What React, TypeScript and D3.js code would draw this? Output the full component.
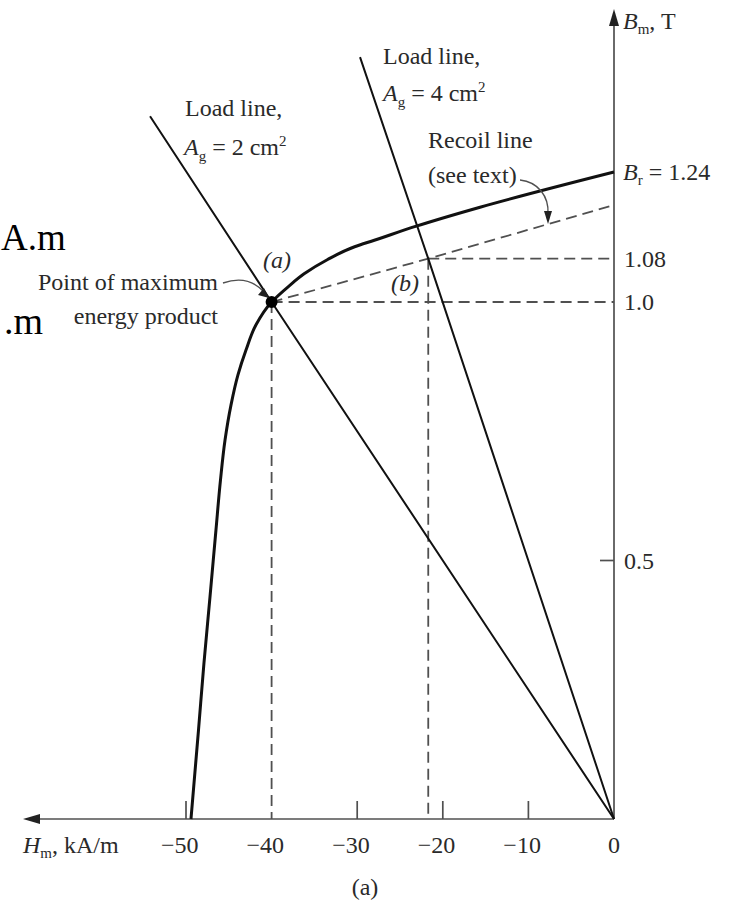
import React from "react";
import * as d3 from "d3";

// ---- data ----
const demagH = [-49.42, -48.54, -47.9, -47.2, -46.5, -45.97, -45.44, -44.74, -43.93, -42.99, -41.82, -40, -37.97, -36.2, -33.5, -30.3, -28.0, -23.1, -15.65, 0];
const demagB = [0, 0.172, 0.302, 0.429, 0.559, 0.656, 0.733, 0.801, 0.859, 0.907, 0.956, 1.0, 1.0295, 1.052, 1.078, 1.102, 1.114, 1.14, 1.175, 1.24];
const load2H = [0, -40, -54.2];
const load2B = [0, 1.0, 1.343];
const load4H = [0, -21.7, -29.67];
const load4B = [0, 1.08, 1.452];
const recoilH = [-40, -21.7, 0];
const recoilB = [1.0, 1.08, 1.179];
const pointA = { h: -40, b: 1.0 };
const pointB = { h: -21.7, b: 1.08 };
const xTicks = [-50, -40, -30, -20, -10, 0];
const xTickMarks = [-50, -30, -20, -10];
const yTickMarks = [0.5];
const yLabels = [
  { v: 1.08, t: "1.08" },
  { v: 1.0, t: "1.0" },
  { v: 0.5, t: "0.5" },
];

const W = 731;
const H = 908;
const FONT = "'Liberation Serif', 'Times New Roman', serif";

export default function App() {
  const x = d3.scaleLinear().domain([-50, 0]).range([186, 614]);
  const y = d3.scaleLinear().domain([0, 1.0, 1.24]).range([819, 302, 172]);
  const line = (hs: number[], bs: number[]) =>
    d3.line<number>().x((_, i) => x(hs[i])).y((_, i) => y(bs[i]))(hs.map((_, i) => i)) || "";
  const curve =
    d3
      .line<number>()
      .x((_, i) => x(demagH[i]))
      .y((_, i) => y(demagB[i]))
      .curve(d3.curveMonotoneY)(demagH.map((_, i) => i)) || "";

  const x0 = x(0);
  const y0 = y(0);
  const ink = "#111";
  const grey = "#505050";
  const txt = "#2a2a2a";
  const fs = 24;
  const sub = 15;

  return (
    <svg
      width={W}
      height={H}
      style={{ position: "absolute", left: 0, top: 0, background: "#fff" }}
      fontFamily={FONT}
    >
      <rect x={0} y={0} width={W} height={H} fill="#fff" />
      {/* stray big text on left */}
      <text x={1} y={250} fontSize={37} fill="#000">A.m</text>
      <text x={4} y={334} fontSize={38} fill="#000">.m</text>

      {/* dashed guides */}
      <g stroke={grey} strokeWidth={1.8} strokeDasharray="11,6" fill="none">
        <line x1={x(pointA.h)} y1={y(pointA.b)} x2={x(pointA.h)} y2={y0} />
        <line x1={x(pointB.h)} y1={y(pointB.b)} x2={x(pointB.h)} y2={y0} />
        <line x1={x(pointA.h)} y1={y(pointA.b)} x2={x0} y2={y(pointA.b)} />
        <line x1={x(pointB.h)} y1={y(pointB.b)} x2={x0} y2={y(pointB.b)} />
        <path d={line(recoilH, recoilB)} />
      </g>

      {/* axes */}
      <g stroke={grey} strokeWidth={1.7}>
        <line x1={x0} y1={y0} x2={x0} y2={22} />
        <line x1={x0} y1={y0} x2={34} y2={y0} />
        {xTickMarks.map((t) => (
          <line key={t} x1={x(t)} y1={y0} x2={x(t)} y2={y0 - 18} />
        ))}
        {yTickMarks.map((t) => (
          <line key={t} x1={x0 - 14} y1={y(t)} x2={x0} y2={y(t)} />
        ))}
      </g>
      <path d={`M${x0},9 L${x0 - 5},26 L${x0 + 5},26 Z`} fill="#222" />
      <path d={`M23,${y0} L40,${y0 - 5} L40,${y0 + 5} Z`} fill="#222" />

      {/* load lines */}
      <g stroke={ink} strokeWidth={2} fill="none">
        <path d={line(load2H, load2B)} />
        <path d={line(load4H, load4B)} />
      </g>
      {/* demagnetization curve */}
      <path d={curve} stroke={ink} strokeWidth={3} fill="none" />
      <circle cx={x(pointA.h)} cy={y(pointA.b)} r={6} fill="#000" />

      {/* annotation arrows */}
      <g stroke={grey} strokeWidth={1.4} fill="none">
        <path d="M223,283 C240,277 254,281 264,292" />
        <path d="M520,180 C538,182 549,196 548,214" />
      </g>
      <path d="M269,298 L258,295 L264,288 Z" fill="#222" />
      <path d="M548,224 L544,211 L552,211 Z" fill="#222" />

      {/* texts */}
      <g fill={txt} fontSize={fs}>
        <text x={623} y={29}>
          <tspan fontStyle="italic">B</tspan>
          <tspan fontSize={sub} dy={5}>m</tspan>
          <tspan dy={-5}>, T</tspan>
        </text>
        <text x={383} y={64}>Load line,</text>
        <text x={383} y={101}>
          <tspan fontStyle="italic">A</tspan>
          <tspan fontSize={sub} dy={6}>g</tspan>
          <tspan dy={-6}> = 4 cm</tspan>
          <tspan fontSize={sub} dy={-9}>2</tspan>
        </text>
        <text x={185} y={116}>Load line,</text>
        <text x={184} y={155}>
          <tspan fontStyle="italic">A</tspan>
          <tspan fontSize={sub} dy={6}>g</tspan>
          <tspan dy={-6}> = 2 cm</tspan>
          <tspan fontSize={sub} dy={-9}>2</tspan>
        </text>
        <text x={428} y={148}>Recoil line</text>
        <text x={428} y={183}>(see text)</text>
        <text x={623} y={180}>
          <tspan fontStyle="italic">B</tspan>
          <tspan fontSize={sub} dy={5}>r</tspan>
          <tspan dy={-5}> = 1.24</tspan>
        </text>
        {yLabels.map((d) => (
          <text key={d.t} x={624} y={y(d.v) + 8}>{d.t}</text>
        ))}
        <text x={277} y={268} textAnchor="middle" fontStyle="italic">(a)</text>
        <text x={405} y={291} textAnchor="middle" fontStyle="italic">(b)</text>
        <text x={218} y={290} textAnchor="end">Point of maximum</text>
        <text x={218} y={324} textAnchor="end">energy product</text>
        {xTicks.map((t) => (
          <text key={t} x={t === 0 ? x(t) : x(t) + 12.5} y={853} textAnchor={t === 0 ? "middle" : "end"}>
            {t === 0 ? "0" : "\u2212" + Math.abs(t)}
          </text>
        ))}
        <text x={23} y={853}>
          <tspan fontStyle="italic">H</tspan>
          <tspan fontSize={sub} dy={5}>m</tspan>
          <tspan dy={-5}>, kA/m</tspan>
        </text>
        <text x={365} y={895} textAnchor="middle">(a)</text>
      </g>
    </svg>
  );
}
